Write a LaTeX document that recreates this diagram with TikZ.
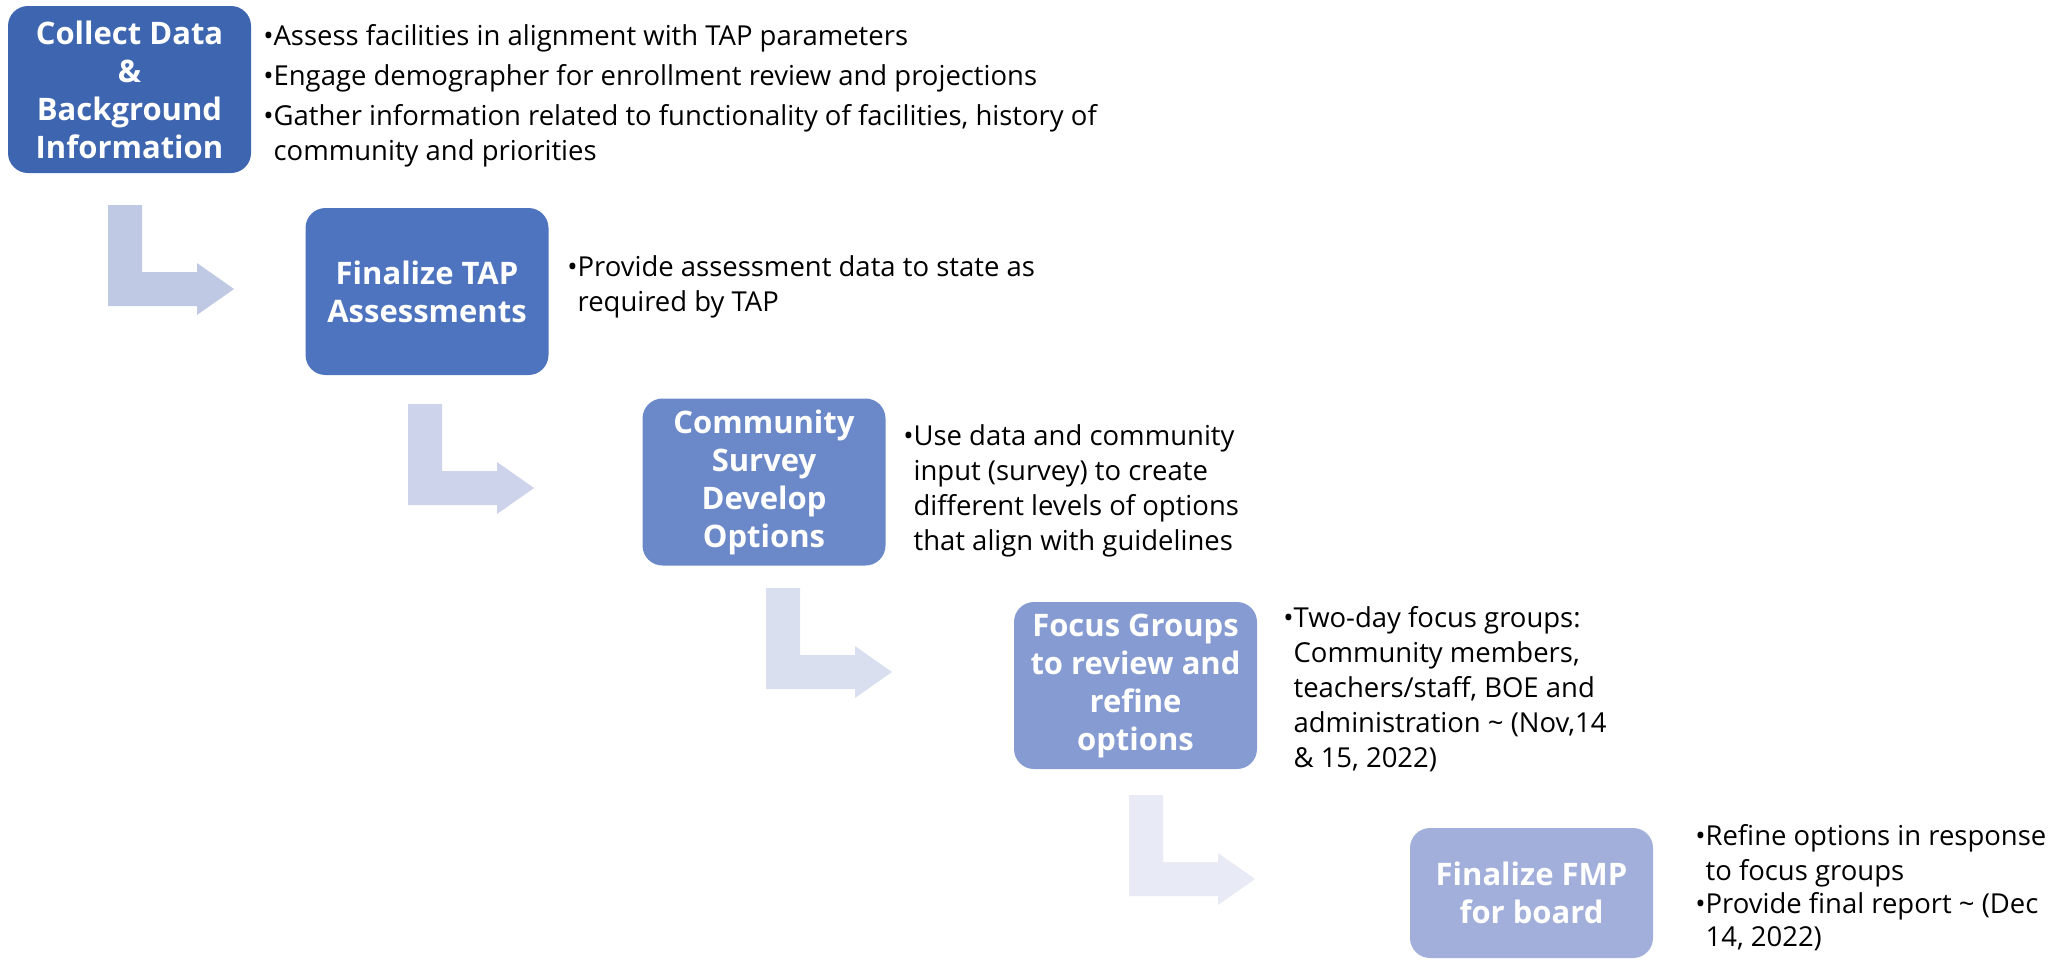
\documentclass[tikz,border=0pt]{standalone}
\usepackage{fontspec}
\setmainfont{Open Sans}
\definecolor{boxA}{HTML}{3E65AF}
\definecolor{boxB}{HTML}{4F74BF}
\definecolor{boxC}{HTML}{6B89C8}
\definecolor{boxD}{HTML}{859BD2}
\definecolor{boxE}{HTML}{A2AFDA}
\definecolor{arrA}{HTML}{BFC9E4}
\definecolor{arrB}{HTML}{CCD3EA}
\definecolor{arrC}{HTML}{DADFF0}
\definecolor{arrD}{HTML}{E8EAF5}
\newcommand\TitleFont{\fontsize{23.25pt}{28.5pt}\selectfont\bfseries}
\newcommand\BodyFont{\fontsize{20.6pt}{26.25pt}\selectfont}
\newcommand\BulletLine[1]{\hbox{\textbullet#1}}
\newcommand\ContLine[1]{\hbox{\phantom{\textbullet}#1}}
\newcommand\ParGap{\vskip3.75pt}
\newcommand\LArrow[3]{\fill[#3] (#1,#2) -- ++(34,0) -- ++(0,67) -- ++(55,0) -- ++(0,-9) -- ++(37,26) -- ++(-37,26) -- ++(0,-9) -- ++(-89,0) -- cycle;}
\begin{document}
\begin{tikzpicture}[x=0.75pt,y=-0.75pt,
  stepbox/.style={rectangle, rounded corners=15pt, draw=none, text=white, font=\TitleFont, align=center, minimum width=182.25pt, minimum height=125.25pt, inner sep=0pt},
  bodytext/.style={anchor=base west, inner sep=0pt, font=\BodyFont, text=black}]
\useasboundingbox (0,0) rectangle (2059,960);
\clip (0,0) rectangle (2059,960);
% connectors (bent arrows)
\LArrow{108}{205}{arrA}
\LArrow{408}{404}{arrB}
\LArrow{766}{588}{arrC}
\LArrow{1129}{795}{arrD}
% steps
\node[stepbox, fill=boxA] (b1) at (129.5,89.5) {Collect Data\\\&\\Background\\Information};
\node[stepbox, fill=boxB] (b2) at (427,291.5) {Finalize TAP\\Assessments};
\node[stepbox, fill=boxC] (b3) at (764,482) {Community\\Survey\\Develop\\Options};
\node[stepbox, fill=boxD] (b4) at (1135.5,685.5) {Focus Groups\\to review and\\refine\\options};
\node[stepbox, fill=boxE, minimum height=97.5pt] (b5) at (1531.5,893) {Finalize FMP\\for board};
% texts
\node[bodytext] (t1) at (263,45) {\vtop{%
  \BulletLine{Assess facilities in alignment with TAP parameters}\ParGap
  \BulletLine{Engage demographer for enrollment review and projections}\ParGap
  \BulletLine{Gather information related to functionality of facilities, history of}
  \ContLine{community and priorities}}};
\node[bodytext] (t2) at (567,276) {\vtop{%
  \BulletLine{Provide assessment data to state as}
  \ContLine{required by TAP}}};
\node[bodytext] (t3) at (903,445) {\vtop{%
  \BulletLine{Use data and community}
  \ContLine{input (survey) to create}
  \ContLine{different levels of options}
  \ContLine{that align with guidelines}}};
\node[bodytext] (t4) at (1283,627) {\vtop{%
  \BulletLine{Two-day focus groups:}
  \ContLine{Community members,}
  \ContLine{teachers/staff, BOE and}
  \ContLine{administration \textasciitilde{} (Nov,14}
  \ContLine{\& 15, 2022)}}};
\node[bodytext] (t5) at (1695,845) {\vtop{\baselineskip=24.75pt
  \BulletLine{Refine options in response}\vskip1.5pt
  \ContLine{to focus groups}
  \BulletLine{Provide final report \textasciitilde{} (Dec}
  \ContLine{14, 2022)}}};
\end{tikzpicture}
\end{document}
